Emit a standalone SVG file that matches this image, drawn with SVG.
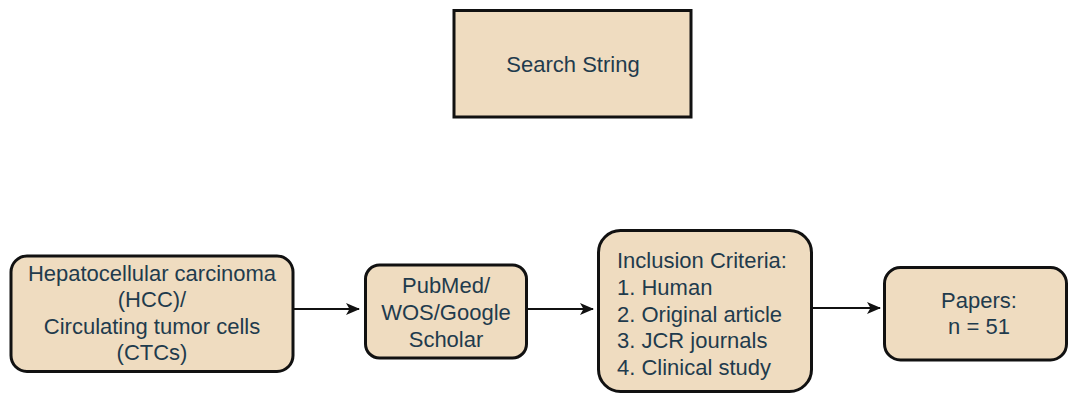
<svg xmlns="http://www.w3.org/2000/svg" width="1069" height="393" viewBox="0 0 1069 393">
  <style>
    .box { fill: #efdcc0; stroke: #111111; stroke-width: 3; }
    .label { font-family: "Liberation Sans", Arial, sans-serif; font-size: 22px; fill: #1f3b4d; }
    .mid { text-anchor: middle; }
    .edge { fill: none; stroke: #111111; stroke-width: 2.2; }
  </style>
  <defs>
    <marker id="arrow" viewBox="0 0 14 12" refX="13" refY="6" markerWidth="14" markerHeight="12" markerUnits="userSpaceOnUse" orient="auto">
      <path d="M0,0 L14,6 L0,12 L3.5,6 Z" fill="#111111"/>
    </marker>
  </defs>
  <rect width="1069" height="393" fill="#ffffff"/>

  <g id="search-string">
    <rect class="box" x="454" y="10.5" width="237" height="106.5"/>
    <text class="label mid" x="573" y="72">Search String</text>
  </g>

  <g id="topic">
    <rect class="box" x="11" y="256" width="282" height="115.5" rx="16"/>
    <text class="label mid" x="152" y="281">Hepatocellular carcinoma</text>
    <text class="label mid" x="152" y="307">(HCC)/</text>
    <text class="label mid" x="152" y="334">Circulating tumor cells</text>
    <text class="label mid" x="152" y="360">(CTCs)</text>
  </g>

  <g id="databases">
    <rect class="box" x="365.5" y="265" width="161" height="93" rx="14"/>
    <text class="label mid" x="446" y="293">PubMed/</text>
    <text class="label mid" x="446" y="320">WOS/Google</text>
    <text class="label mid" x="446" y="347">Scholar</text>
  </g>

  <g id="criteria">
    <rect class="box" x="598.5" y="230.5" width="213" height="161" rx="22"/>
    <text class="label" x="617" y="268">Inclusion Criteria:</text>
    <text class="label" x="617" y="295">1. Human</text>
    <text class="label" x="617" y="322">2. Original article</text>
    <text class="label" x="617" y="348">3. JCR journals</text>
    <text class="label" x="617" y="375">4. Clinical study</text>
  </g>

  <g id="papers">
    <rect class="box" x="884.5" y="267.5" width="182" height="92.5" rx="16"/>
    <text class="label mid" x="979" y="308">Papers:</text>
    <text class="label mid" x="979" y="334">n = 51</text>
  </g>

  <g id="connectors">
    <path class="edge" d="M293,309 L359,309" marker-end="url(#arrow)"/>
    <path class="edge" d="M526.5,309 L593,309" marker-end="url(#arrow)"/>
    <path class="edge" d="M811.5,308 L880,308" marker-end="url(#arrow)"/>
  </g>
</svg>
